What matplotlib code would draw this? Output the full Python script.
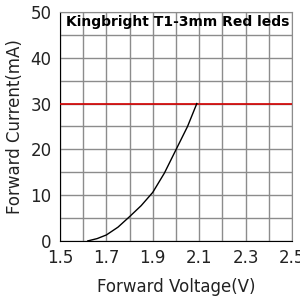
import matplotlib
matplotlib.use("Agg")
import matplotlib.pyplot as plt
import numpy as np

voltage = [1.62, 1.66, 1.70, 1.75, 1.80, 1.85, 1.90, 1.95, 2.00, 2.05, 2.09]
current = [0.0, 0.5, 1.3, 3.0, 5.3, 7.7, 10.6, 14.8, 19.9, 25.0, 30.0]
limit_current = 30
xticks = [1.5, 1.7, 1.9, 2.1, 2.3, 2.5]
yticks = [0, 10, 20, 30, 40, 50]
title = "Kingbright T1-3mm Red leds"

fig = plt.figure(figsize=(3, 3), dpi=100)
ax = fig.add_axes([0.2, 0.197, 0.773, 0.763])
ax.set_xlim(1.5, 2.5)
ax.set_ylim(0, 50)
ax.set_xticks(np.arange(1.5, 2.501, 0.1), minor=True)
ax.set_yticks(np.arange(0, 50.1, 5), minor=True)
ax.set_xticks(xticks)
ax.set_yticks(yticks)
ax.set_xticklabels([f"{t:.1f}" for t in xticks])
ax.set_yticklabels([str(t) for t in yticks])
ax.grid(True, which="both", color="#8c8c8c", linewidth=1)
ax.tick_params(which="both", length=0, labelsize=12, labelcolor="#222222", pad=6)
for s in ["top", "right"]:
    ax.spines[s].set_color("#8c8c8c")
for s in ["left", "bottom"]:
    ax.spines[s].set_color("black")
ax.axhline(limit_current, color="#d40000", linewidth=1.2, zorder=3)
ax.plot(voltage, current, color="black", linewidth=1, zorder=4)
ax.text(0.025, 0.955, title, transform=ax.transAxes, fontsize=10, fontweight="bold",
        va="center", ha="left", zorder=5)
ax.set_xlabel("Forward Voltage(V)", fontsize=12, color="#222222", labelpad=8)
ax.set_ylabel("Forward Current(mA)", fontsize=12, color="#222222", labelpad=5)
fig.savefig("out.png", dpi=100)
